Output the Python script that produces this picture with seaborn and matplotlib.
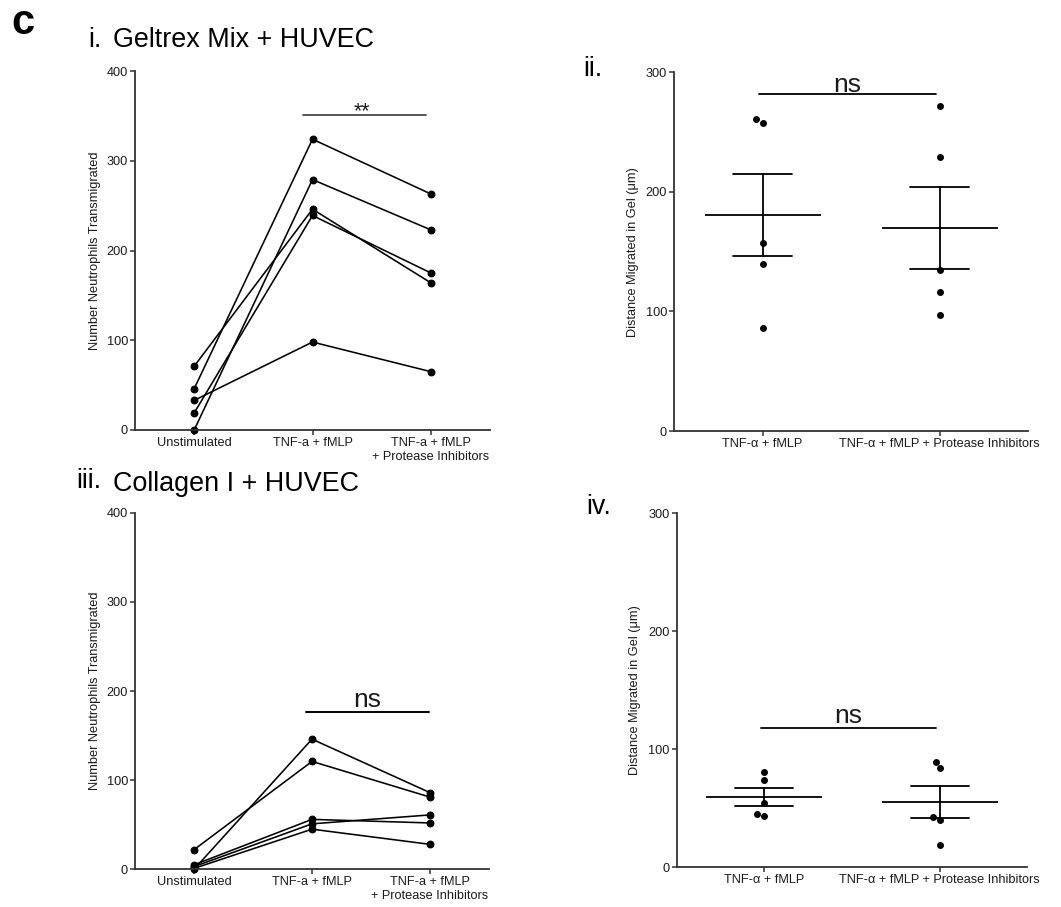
import numpy as np
import pandas as pd
import matplotlib
matplotlib.use("Agg")
import matplotlib.pyplot as plt
import seaborn as sns

# ---------------- data ----------------
line_conditions = ["Unstimulated", "TNF-a + fMLP", "TNF-a + fMLP\n+ Protease Inhibitors"]
subjects = ["S1", "S2", "S3", "S4", "S5"]

geltrex_unstim = [71, 46, 33, 19, 0]
geltrex_tnf = [246, 324, 98, 239, 279]
geltrex_pi = [164, 263, 65, 175, 223]

collagen_unstim = [22, 0, 5, 3, 1]
collagen_tnf = [121, 146, 56, 51, 45]
collagen_pi = [81, 86, 52, 61, 28]

dist_conditions = ["TNF-\u03b1 + fMLP", "TNF-\u03b1 + fMLP + Protease Inhibitors"]
geltrex_dist_tnf = [261, 258, 157, 140, 86]
geltrex_dist_pi = [272, 229, 135, 116, 97]
collagen_dist_tnf = [81, 74, 54, 43.5, 45]
collagen_dist_pi = [89, 84, 42, 40, 19]

# significance annotations: (x0, x1, y, label)
sig_i = (0.92, 1.96, 351, "**")
sig_ii = (-0.02, 0.98, 281.6, "ns")
sig_iii = (0.95, 1.99, 176, "ns")
sig_iv = (-0.02, 0.98, 118.2, "ns")

# ---------------- style ----------------
sns.set_theme(style="ticks")
plt.rcParams["font.family"] = ["Liberation Sans", "DejaVu Sans"]
SPINE = "#333333"
TXT = "#1a1a1a"

W, H = 1061, 907
fig = plt.figure(figsize=(W / 100, H / 100), dpi=100)


def px_axes(left, top, right, bottom):
    return fig.add_axes([left / W, 1 - bottom / H, (right - left) / W, (bottom - top) / H])


def style_ax(ax):
    sns.despine(ax=ax)
    for s in ("left", "bottom"):
        ax.spines[s].set_linewidth(1.3)
        ax.spines[s].set_color(SPINE)
    ax.tick_params(axis="both", length=3.5, width=1.1, pad=1.5, labelsize=9.2,
                   colors=SPINE, labelcolor=TXT)
    ax.set_facecolor("white")


def paired_panel(ax, unstim, tnf, pi, ymax, sig, sig_color):
    n = len(subjects)
    df = pd.DataFrame({
        "subject": subjects * 3,
        "condition": np.repeat(line_conditions, n),
        "value": np.concatenate([unstim, tnf, pi]),
    })
    sns.pointplot(data=df, x="condition", y="value", hue="subject",
                  order=line_conditions, hue_order=subjects,
                  palette=["black"] * n, errorbar=None, markers="o",
                  markersize=4.8, linewidth=1.15, legend=False, ax=ax)
    for ln in ax.lines:
        ln.set_clip_on(False)
    ax.set_xlim(-0.5, 2.5)
    ax.set_ylim(0, ymax)
    ax.set_yticks(np.arange(0, ymax + 1, 100))
    ax.set_xlabel("")
    ax.set_ylabel("Number Neutrophils Transmigrated", fontsize=9.2, labelpad=4, color=TXT)
    style_ax(ax)
    x0, x1, y, lab = sig
    ax.plot([x0, x1], [y, y], color=sig_color, lw=1.4, clip_on=False)
    return ax


def dist_panel(ax, tnf, pi, sig, sig_off, sig_size):
    df = pd.DataFrame({
        "condition": np.repeat(dist_conditions, len(tnf)),
        "value": np.concatenate([tnf, pi]),
    })
    sns.swarmplot(data=df, x="condition", y="value", order=dist_conditions,
                  color="black", size=5, ax=ax)
    sns.pointplot(data=df, x="condition", y="value", order=dist_conditions,
                  errorbar="se", capsize=0.33, linestyle="none", marker="_",
                  markersize=84, markeredgewidth=1.3, color="black",
                  err_kws={"linewidth": 1.3}, ax=ax)
    ax.set_xlim(-0.5, 1.5)
    ax.set_ylim(0, 300)
    ax.set_yticks([0, 100, 200, 300])
    ax.set_xlabel("")
    ax.set_ylabel("Distance Migrated in Gel (\u03bcm)", fontsize=9.2, labelpad=5, color=TXT)
    style_ax(ax)
    x0, x1, y, lab = sig
    ax.plot([x0, x1], [y, y], color="black", lw=1.3, clip_on=False)
    ax.text((x0 + x1) / 2, y + sig_off, lab, ha="center", va="baseline",
            fontsize=sig_size, color=TXT)
    return ax


# panel i
ax1 = px_axes(135, 71, 490, 430)
paired_panel(ax1, geltrex_unstim, geltrex_tnf, geltrex_pi, 400, sig_i, "#555555")
ax1.text(1.415, 349, sig_i[3], ha="center", va="baseline", fontsize=15.5, color=TXT)

# panel ii
ax2 = px_axes(674, 72.3, 1028, 431)
dist_panel(ax2, geltrex_dist_tnf, geltrex_dist_pi, sig_ii, 2.2, 19)

# panel iii
ax3 = px_axes(135, 512.7, 489, 869.3)
paired_panel(ax3, collagen_unstim, collagen_tnf, collagen_pi, 400, sig_iii, "black")
ax3.text(1.47, 182.3, sig_iii[3], ha="center", va="baseline", fontsize=19, color=TXT)

# panel iv
ax4 = px_axes(676.7, 513.3, 1027.3, 867)
dist_panel(ax4, collagen_dist_tnf, collagen_dist_pi, sig_iv, 4.0, 19)

# panel labels / titles
def ftext(x, y, s, **kw):
    fig.text(x / W, 1 - y / H, s, va="baseline", ha="left", color="black", **kw)

ftext(11, 34, "c", fontsize=30, fontweight="bold")
ftext(88, 47.3, "i.", fontsize=19.4)
ftext(113, 47.3, "Geltrex Mix + HUVEC", fontsize=19.4)
ftext(583, 76, "ii.", fontsize=19.4)
ftext(76, 488.5, "iii.", fontsize=19.4)
ftext(113, 491, "Collagen I + HUVEC", fontsize=19.4)
ftext(586, 514, "iv.", fontsize=19.4)

fig.savefig("out.png", dpi=100, facecolor="white")
